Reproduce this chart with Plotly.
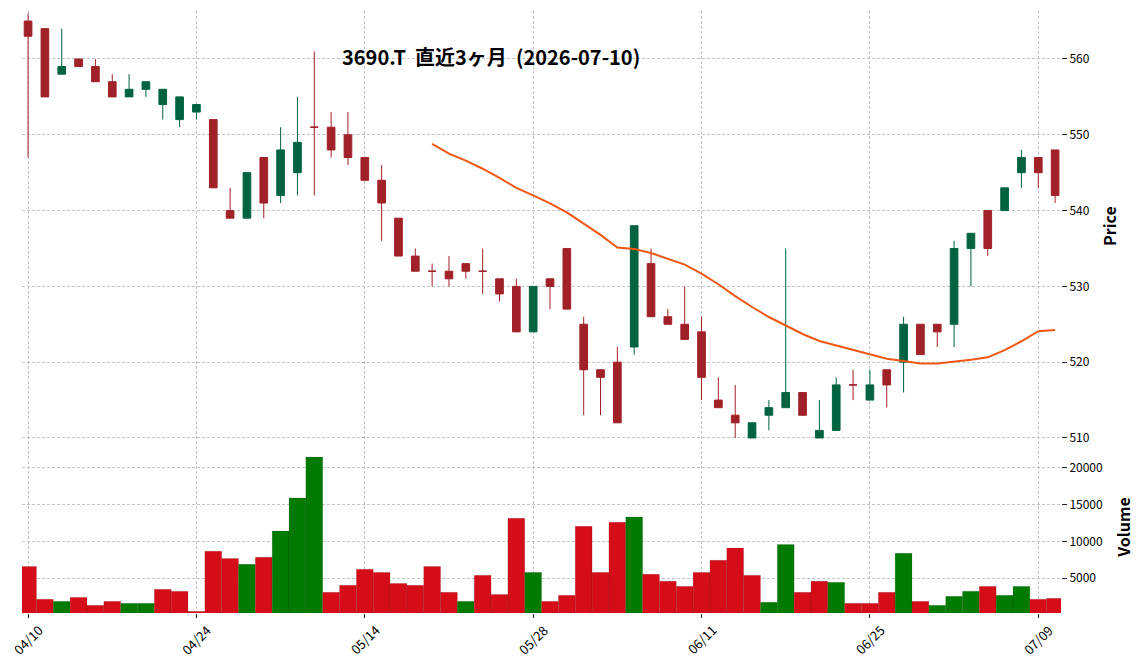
import plotly.graph_objects as go

# ---- data ----
dates = ["04/10", "04/13", "04/14", "04/15", "04/16", "04/17", "04/20", "04/21", "04/22", "04/23",
         "04/24", "04/27", "04/28", "04/30", "05/01", "05/07", "05/08", "05/11", "05/12", "05/13",
         "05/14", "05/15", "05/18", "05/19", "05/20", "05/21", "05/22", "05/25", "05/26", "05/27",
         "05/28", "05/29", "06/01", "06/02", "06/03", "06/04", "06/05", "06/08", "06/09", "06/10",
         "06/11", "06/12", "06/15", "06/16", "06/17", "06/18", "06/19", "06/22", "06/23", "06/24",
         "06/25", "06/26", "06/29", "06/30", "07/01", "07/02", "07/03", "07/06", "07/07", "07/08",
         "07/09", "07/10"]
opens = [565, 564, 558, 560, 559, 557, 555, 556, 554, 552,
         553, 552, 540, 539, 547, 542, 545, 551, 551, 550,
         547, 544, 539, 534, 532, 532, 533, 532, 531, 530,
         524, 531, 535, 525, 519, 520, 522, 533, 526, 525,
         524, 515, 513, 510, 513, 514, 516, 510, 511, 517,
         515, 519, 520, 525, 525, 525, 535, 540, 540, 545,
         547, 548]
highs = [566, 564, 564, 560, 560, 558, 558, 557, 556, 555,
         554, 552, 543, 545, 547, 551, 555, 561, 553, 553,
         547, 546, 539, 535, 533, 534, 533, 535, 531, 531,
         530, 531, 535, 526, 519, 522, 538, 535, 527, 530,
         526, 518, 517, 512, 515, 535, 516, 515, 518, 519,
         519, 519, 526, 525, 525, 536, 537, 540, 543, 548,
         547, 548]
lows = [547, 555, 558, 559, 557, 555, 555, 555, 552, 551,
        552, 543, 539, 539, 539, 541, 542, 542, 547, 546,
        544, 536, 534, 532, 530, 530, 531, 529, 528, 524,
        524, 527, 527, 513, 513, 512, 521, 526, 525, 523,
        515, 514, 510, 510, 511, 514, 513, 510, 511, 515,
        515, 514, 516, 521, 522, 522, 530, 534, 540, 543,
        543, 541]
closes = [563, 555, 559, 559, 557, 555, 556, 557, 556, 555,
          554, 543, 539, 545, 541, 548, 549, 551, 548, 547,
          544, 541, 534, 532, 532, 531, 532, 532, 529, 524,
          530, 530, 527, 519, 518, 512, 538, 526, 525, 523,
          518, 514, 512, 512, 514, 516, 513, 511, 517, 517,
          517, 517, 525, 521, 524, 535, 537, 535, 543, 547,
          545, 542]
volumes = [6600, 2150, 1870, 2400, 1330, 1870, 1600, 1600, 3500, 3230,
           510, 8670, 7700, 6900, 7850, 11400, 15900, 21450, 3100, 4050,
           6220, 5800, 4300, 4050, 6600, 3100, 1870, 5400, 2800, 13150,
           5800, 1870, 2690, 12050, 5800, 12600, 13300, 5550, 4600, 3900,
           5800, 7450, 9100, 5400, 1740, 9600, 3100, 4600, 4450, 1600,
           1600, 3100, 8400, 1870, 1330, 2550, 3230, 3900, 2690, 3900,
           2150, 2280]
# 25-day moving average of the close, as drawn (starts at the 25th session)
ma25 = [548.80, 547.52, 546.60, 545.52, 544.32, 543.00, 542.00, 540.96, 539.76, 538.28,
        536.80, 535.12, 534.92, 534.40, 533.60, 532.88, 531.68, 530.28, 528.72, 527.28,
        525.96, 524.84, 523.72, 522.80, 522.20, 521.60, 521.04, 520.44, 520.16, 519.84,
        519.84, 520.04, 520.32, 520.64, 521.60, 522.76, 524.08, 524.24]
tick_labels = ["04/10", "04/24", "05/14", "05/28", "06/11", "06/25", "07/09"]
price_ticks = [510, 520, 530, 540, 550, 560]
volume_ticks = [5000, 10000, 15000, 20000]
title_text = "3690.T \u00a0直近3ヶ月 \u00a0(2026-07-10)"

# ---- styles ----
UP, DOWN = "#006340", "#a02128"
VUP, VDOWN = "#007a00", "#d50d18"
MA_COLOR = "#ef5714"
GRID = "#c4c4c4"
DASH = "3px,2px"
FONT = "Noto Sans CJK JP"

n = len(dates)
xs = list(range(n))
up_idx = [i for i in xs if closes[i] > opens[i]]
dn_idx = [i for i in xs if closes[i] <= opens[i]]

fig = go.Figure()

for idx, col in ((up_idx, UP), (dn_idx, DOWN)):
    fig.add_trace(go.Candlestick(
        x=[xs[i] for i in idx],
        open=[opens[i] for i in idx], high=[highs[i] for i in idx],
        low=[lows[i] for i in idx], close=[closes[i] for i in idx],
        increasing=dict(line=dict(color=col, width=1), fillcolor=col),
        decreasing=dict(line=dict(color=col, width=1), fillcolor=col),
        whiskerwidth=0, showlegend=False, hoverinfo="skip",
        xaxis="x", yaxis="y"))

fig.add_trace(go.Scatter(
    x=xs[n - len(ma25):], y=ma25, mode="lines",
    line=dict(color=MA_COLOR, width=2), showlegend=False,
    xaxis="x", yaxis="y"))

vcolors = [VDOWN] + [VUP if closes[i] > closes[i - 1] else VDOWN for i in range(1, n)]
fig.add_trace(go.Bar(
    x=xs, y=volumes, width=1.0,
    marker=dict(color=vcolors, line=dict(color="rgba(0,0,0,0.18)", width=0.6)),
    showlegend=False, xaxis="x", yaxis="y2"))

tickvals = [dates.index(t) for t in tick_labels]

# rotated date labels centred under their ticks (matplotlib style)
annotations = [dict(text=lab, x=v, xref="x", y=0, yref="paper", yshift=-5,
                    xanchor="center", yanchor="top", textangle=-45, showarrow=False,
                    font=dict(size=13, family=FONT, color="#000000"))
               for lab, v in zip(tick_labels, tickvals)]
annotations.append(dict(text="<b>" + title_text + "</b>", xref="paper", yref="paper",
                        x=0.4514, y=0.925, xanchor="center", yanchor="middle",
                        showarrow=False, font=dict(size=20, family=FONT)))

fig.update_layout(
    width=1144, height=670,
    margin=dict(l=22, r=83, t=11, b=57, autoexpand=False),
    paper_bgcolor="white", plot_bgcolor="white",
    font=dict(family=FONT, size=12, color="#000000"),
    boxgap=0.35,
    xaxis=dict(range=[-0.36, 61.35], anchor="y2", tickmode="array",
               tickvals=tickvals, ticktext=tick_labels, showticklabels=False,
               ticks="outside", ticklen=4, tickcolor="#222", showgrid=True,
               gridcolor=GRID, griddash=DASH, gridwidth=1, zeroline=False,
               showline=False, rangeslider=dict(visible=False), automargin=False),
    yaxis=dict(domain=[0.2857, 1.0], range=[509.6, 566.33], side="right",
               tickmode="array", tickvals=price_ticks, ticks="outside", ticklen=5,
               tickcolor="#222", showgrid=True, gridcolor=GRID, griddash=DASH,
               gridwidth=1, zeroline=False, showline=False, automargin=False,
               title=dict(text="<b>Price</b>", font=dict(size=16), standoff=16)),
    yaxis2=dict(domain=[0.0, 0.2857], range=[286, 23630], side="right",
                tickmode="array", tickvals=volume_ticks, tickformat="d",
                ticks="outside", ticklen=5,
                tickcolor="#222", showgrid=True, gridcolor=GRID, griddash=DASH,
                gridwidth=1, zeroline=False, showline=False, automargin=False,
                title=dict(text="<b>Volume</b>", font=dict(size=16), standoff=16)),
    annotations=annotations,
)

fig.write_html("out.html")
